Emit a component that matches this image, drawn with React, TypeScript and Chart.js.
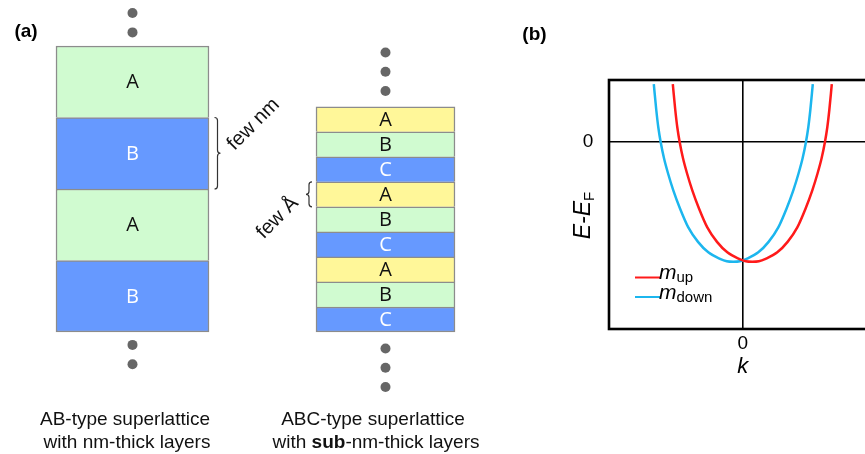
import React, { useEffect, useRef } from 'react';
import { Chart, registerables } from 'chart.js';

Chart.register(...registerables);

const FONT = '"Liberation Sans", Arial, sans-serif';

// ---------- Panel (a): layer stacks (bottom → top) ----------
const columns = ['AB', 'ABC'];
const abLayers = ['B', 'A', 'B', 'A'];
const abThickness = [1, 1, 1, 1];
const abcLayers = ['C', 'B', 'A', 'C', 'B', 'A', 'C', 'B', 'A'];
const abcThickness = [0.35, 0.35, 0.35, 0.35, 0.35, 0.35, 0.35, 0.35, 0.35];
const stackRange = [-1.706, 4.643];
const GREEN = '#d0fbd0';
const BLUE = '#6699ff';
const YELLOW = '#fff799';
const abFill: Record<string, string> = { A: GREEN, B: BLUE };
const abcFill: Record<string, string> = { A: YELLOW, B: GREEN, C: BLUE };
const abDotsY = [4.46, 4.19, -0.18, -0.45];
const abcDotsY = [3.91, 3.64, 3.37, -0.23, -0.5, -0.77];
const abCaption = ['AB-type superlattice', 'with nm-thick layers'];
const abcCaption1 = 'ABC-type superlattice';
const abcCaption2: [string, boolean][] = [['with ', false], ['sub', true], ['-nm-thick layers', false]];
const abBraceLabel = 'few nm';
const abcBraceLabel = 'few Å';

// ---------- Panel (b): band dispersion ----------
const upK = [-0.5228, -0.5041, -0.4892, -0.4712, -0.4465, -0.4166, -0.377, -0.3269, -0.2648, -0.1922, -0.1152,
  -0.0277, 0.0228, 0.0718, 0.1208, 0.1713, 0.2588, 0.3358, 0.4084, 0.4705, 0.5206, 0.5602, 0.5901, 0.6148,
  0.6328, 0.6477, 0.6664];
const upE = [0.932, 0.514, 0.241, 0, -0.257, -0.498, -0.772, -1.063, -1.367, -1.6, -1.768, -1.873, -1.913,
  -1.921, -1.913, -1.873, -1.768, -1.6, -1.367, -1.063, -0.772, -0.498, -0.257, 0, 0.241, 0.514, 0.932];
const downK = [-0.6649, -0.6462, -0.6313, -0.6133, -0.5886, -0.5587, -0.5191, -0.469, -0.4069, -0.3343, -0.2573,
  -0.1698, -0.1193, -0.0703, -0.0213, 0.0292, 0.1167, 0.1937, 0.2663, 0.3284, 0.3785, 0.4181, 0.448, 0.4727,
  0.4907, 0.5056, 0.5243];
const downE = [0.932, 0.514, 0.241, 0, -0.257, -0.498, -0.772, -1.063, -1.367, -1.6, -1.768, -1.873, -1.913,
  -1.921, -1.913, -1.873, -1.768, -1.6, -1.367, -1.063, -0.772, -0.498, -0.257, 0, 0.241, 0.514, 0.932];
const seriesNames = ['up', 'down'];
const seriesColors = ['#ff1a1a', '#1cb6ee'];
const kRange = [-1, 1];
const eRange = [-3, 1];

function drawBrace(ctx: CanvasRenderingContext2D, x: number, y1: number, y2: number, dir: number, w: number) {
  const ym = (y1 + y2) / 2;
  const r = w / 2;
  ctx.beginPath();
  ctx.moveTo(x, y1);
  ctx.quadraticCurveTo(x + dir * r, y1, x + dir * r, y1 + r);
  ctx.lineTo(x + dir * r, ym - r);
  ctx.quadraticCurveTo(x + dir * r, ym, x + dir * w, ym);
  ctx.quadraticCurveTo(x + dir * r, ym, x + dir * r, ym + r);
  ctx.lineTo(x + dir * r, y2 - r);
  ctx.quadraticCurveTo(x + dir * r, y2, x, y2);
  ctx.stroke();
}

const panelAPlugin = {
  id: 'panelA',
  afterDatasetsDraw(chart: any) {
    const ctx: CanvasRenderingContext2D = chart.ctx;
    ctx.save();
    // layer letters
    ctx.textAlign = 'center';
    ctx.textBaseline = 'middle';
    ctx.font = '20px "Open Sans", ' + FONT;
    chart.data.datasets.forEach((ds: any, d: number) => {
      if (ds.type !== 'bar') return;
      const meta = chart.getDatasetMeta(d);
      meta.data.forEach((el: any, i: number) => {
        if (ds.data[i] == null) return;
        const p = el.getProps(['x', 'y', 'base'], true);
        ctx.fillStyle = ds.textColor;
        ctx.fillText(ds.label, p.x, (p.y + p.base) / 2 + 1);
      });
    });
    // braces
    ctx.strokeStyle = '#333';
    ctx.lineWidth = 1.2;
    const abEl = chart.getDatasetMeta(2).data[0].getProps(['x', 'y', 'base', 'width'], true);
    const abX = abEl.x + abEl.width / 2 + 5.5;
    drawBrace(ctx, abX, abEl.y, abEl.base, 1, 6);
    const abcEl = chart.getDatasetMeta(abLayers.length + 5).data[1].getProps(['x', 'y', 'base', 'width'], true);
    const abcX = abcEl.x - abcEl.width / 2 - 4;
    drawBrace(ctx, abcX, abcEl.y, abcEl.base, -1, 6);
    ctx.fillStyle = '#111';
    ctx.font = '20px ' + FONT;
    ctx.save();
    ctx.translate(abX + 6 + 33, (abEl.y + abEl.base) / 2 - 29);
    ctx.rotate(-Math.PI / 4);
    ctx.fillText(abBraceLabel, 0, 0);
    ctx.restore();
    ctx.save();
    ctx.translate(abcX - 6 - 28.5, (abcEl.y + abcEl.base) / 2 + 23.5);
    ctx.rotate(-Math.PI / 4);
    ctx.fillText(abcBraceLabel, 0, 0);
    ctx.restore();
    // captions
    const xs = chart.scales.x;
    const cAB = xs.getPixelForValue(0);
    const cABC = xs.getPixelForValue(1);
    ctx.textBaseline = 'alphabetic';
    ctx.fillStyle = '#111';
    ctx.font = '19px ' + FONT;
    ctx.fillText(abCaption[0], cAB - 7.5, 425);
    ctx.fillText(abCaption[1], cAB - 5.5, 448);
    ctx.fillText(abcCaption1, cABC - 12.5, 425);
    let total = 0;
    const widths = abcCaption2.map(([t, b]) => {
      ctx.font = (b ? 'bold ' : '') + '19px ' + FONT;
      const w = ctx.measureText(t).width;
      total += w;
      return w;
    });
    let x0 = cABC - 9.5 - total / 2;
    ctx.textAlign = 'left';
    abcCaption2.forEach(([t, b], i) => {
      ctx.font = (b ? 'bold ' : '') + '19px ' + FONT;
      ctx.fillText(t, x0, 448);
      x0 += widths[i];
    });
    // panel label
    ctx.textAlign = 'center';
    ctx.textBaseline = 'middle';
    ctx.font = 'bold 19px ' + FONT;
    ctx.fillStyle = '#000';
    ctx.fillText('(a)', 26, 32);
    ctx.restore();
  },
};

const panelBPlugin = {
  id: 'panelB',
  afterDraw(chart: any) {
    const ctx: CanvasRenderingContext2D = chart.ctx;
    const a = chart.chartArea;
    const xs = chart.scales.x;
    const ys = chart.scales.y;
    ctx.save();
    ctx.strokeStyle = '#000';
    ctx.lineWidth = 2.6;
    ctx.strokeRect(a.left, a.top, a.right - a.left, a.bottom - a.top);
    ctx.fillStyle = '#000';
    ctx.textAlign = 'center';
    ctx.textBaseline = 'middle';
    ctx.font = '19px ' + FONT;
    ctx.fillText('0', a.left - 21, ys.getPixelForValue(0));
    ctx.fillText('0', xs.getPixelForValue(0), a.bottom + 15);
    ctx.font = 'italic 22px ' + FONT;
    ctx.fillText('k', xs.getPixelForValue(0), a.bottom + 38);
    // E-E_F rotated
    ctx.save();
    ctx.translate(a.left - 27, (a.top + a.bottom) / 2 + 11);
    ctx.rotate(-Math.PI / 2);
    ctx.textAlign = 'left';
    ctx.textBaseline = 'alphabetic';
    ctx.font = 'italic 23px ' + FONT;
    const w1 = ctx.measureText('E-E').width;
    ctx.font = '15px ' + FONT;
    const w2 = ctx.measureText('F').width;
    const sx = -(w1 + w2) / 2;
    ctx.font = 'italic 23px ' + FONT;
    ctx.fillText('E-E', sx, 8);
    ctx.font = '15px ' + FONT;
    ctx.fillText('F', sx + w1, 12);
    ctx.restore();
    // legend
    chart.data.datasets.forEach((ds: any, i: number) => {
      const ly = a.top + 197.5 + 19.5 * i;
      ctx.strokeStyle = ds.borderColor;
      ctx.lineWidth = 2;
      ctx.beginPath();
      ctx.moveTo(a.left + 26, ly);
      ctx.lineTo(a.left + 51, ly);
      ctx.stroke();
      ctx.textAlign = 'left';
      ctx.textBaseline = 'alphabetic';
      ctx.fillStyle = '#000';
      ctx.font = 'italic 21px ' + FONT;
      ctx.fillText('m', a.left + 50, ly + 1.5);
      const mw = ctx.measureText('m').width;
      ctx.font = '15px ' + FONT;
      ctx.fillText(ds.label, a.left + 50 + mw, ly + 4.5);
    });
    ctx.textAlign = 'center';
    ctx.textBaseline = 'middle';
    ctx.font = 'bold 19px ' + FONT;
    ctx.fillStyle = '#000';
    ctx.fillText('(b)', 14.5, 35);
    ctx.restore();
  },
};

export default function App() {
  const aRef = useRef<HTMLCanvasElement>(null);
  const bRef = useRef<HTMLCanvasElement>(null);

  useEffect(() => {
    const barSets: any[] = [
      ...abLayers.map((name, i) => ({
        type: 'bar',
        label: name,
        data: [abThickness[i], null],
        backgroundColor: abFill[name],
        borderColor: '#8c8c8c',
        borderWidth: 1.5,
        borderSkipped: i === 0 ? false : 'start',
        barThickness: 153,
        textColor: abFill[name] === BLUE ? '#ffffff' : '#111111',
      })),
      ...abcLayers.map((name, i) => ({
        type: 'bar',
        label: name,
        data: [null, abcThickness[i]],
        backgroundColor: abcFill[name],
        borderColor: '#8c8c8c',
        borderWidth: 1.5,
        borderSkipped: i === 0 ? false : 'start',
        barThickness: 139,
        textColor: abcFill[name] === BLUE ? '#ffffff' : '#111111',
      })),
    ];
    const dotSet = {
      type: 'scatter',
      label: 'dots',
      yAxisID: 'yDots',
      clip: false,
      pointRadius: 5,
      pointBackgroundColor: '#666666',
      pointBorderWidth: 0,
      data: [
        ...abDotsY.map((y) => ({ x: columns[0], y })),
        ...abcDotsY.map((y) => ({ x: columns[1], y })),
      ],
    };
    const ca = new Chart(aRef.current as HTMLCanvasElement, {
      type: 'bar',
      data: { labels: columns, datasets: [...barSets, dotSet] },
      options: {
        responsive: false,
        animation: false,
        events: [],
        layout: { autoPadding: false, padding: { left: 6, right: 8, top: 0, bottom: 0 } },
        plugins: { legend: { display: false }, tooltip: { enabled: false } },
        scales: {
          x: { type: 'category', display: false, stacked: true, offset: true },
          y: { type: 'linear', display: false, stacked: true, min: stackRange[0], max: stackRange[1] },
          yDots: { type: 'linear', axis: 'y', display: false, min: stackRange[0], max: stackRange[1] },
        },
      } as any,
      plugins: [panelAPlugin],
    } as any);

    const cb = new Chart(bRef.current as HTMLCanvasElement, {
      type: 'scatter',
      data: {
        datasets: [
          {
            label: seriesNames[0],
            data: upK.map((k, i) => ({ x: k, y: upE[i] })),
            borderColor: seriesColors[0],
            backgroundColor: seriesColors[0],
            showLine: true,
            pointRadius: 0,
            borderWidth: 2.5,
            cubicInterpolationMode: 'monotone',
          },
          {
            label: seriesNames[1],
            data: downK.map((k, i) => ({ x: k, y: downE[i] })),
            borderColor: seriesColors[1],
            backgroundColor: seriesColors[1],
            showLine: true,
            pointRadius: 0,
            borderWidth: 2.5,
            cubicInterpolationMode: 'monotone',
          },
        ],
      },
      options: {
        responsive: false,
        animation: false,
        events: [],
        layout: { autoPadding: false, padding: { left: 89, right: 23.6, top: 80, bottom: 125 } },
        plugins: { legend: { display: false }, tooltip: { enabled: false } },
        scales: {
          x: {
            type: 'linear',
            min: kRange[0],
            max: kRange[1],
            afterBuildTicks: (s: any) => { s.ticks = [{ value: 0 }]; },
            ticks: { display: false },
            border: { display: false },
            grid: { drawTicks: false, color: '#000', lineWidth: 1.6 },
          },
          y: {
            type: 'linear',
            min: eRange[0],
            max: eRange[1],
            afterBuildTicks: (s: any) => { s.ticks = [{ value: 0 }]; },
            ticks: { display: false },
            border: { display: false },
            grid: { drawTicks: false, color: '#000', lineWidth: 1.6 },
          },
        },
      } as any,
      plugins: [panelBPlugin],
    } as any);

    return () => {
      ca.destroy();
      cb.destroy();
    };
  }, []);

  return (
    <div style={{ position: 'absolute', left: 0, top: 0, width: 865, height: 454, overflow: 'hidden', background: '#fff' }}>
      <canvas ref={aRef} width={520} height={454} style={{ position: 'absolute', left: 0, top: 0, width: 520, height: 454 }} />
      <canvas ref={bRef} width={380} height={454} style={{ position: 'absolute', left: 520, top: 0, width: 380, height: 454 }} />
    </div>
  );
}
